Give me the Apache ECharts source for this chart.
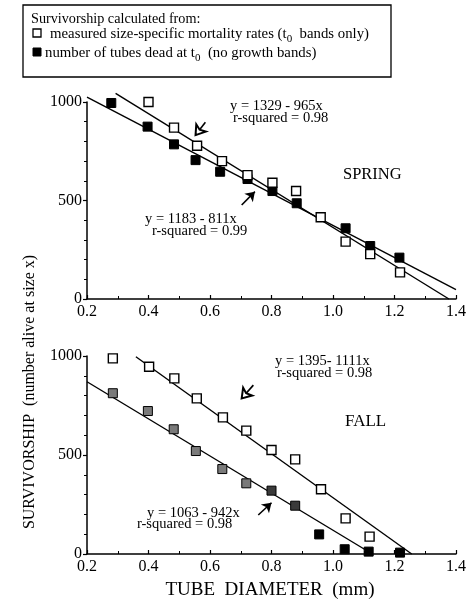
<!DOCTYPE html>
<html><head><meta charset="utf-8">
<script src="https://cdn.jsdelivr.net/npm/echarts@6/dist/echarts.min.js"></script>
<style>html,body{margin:0;padding:0;background:#fff}#c{width:469px;height:605px}</style>
</head><body><div id="c"></div>
<script>
// ---- data ----
const springOpen = [[0.40,1000],[0.483,870],[0.558,778],[0.639,700],[0.722,629],[0.803,590],[0.88,548],[0.96,415],[1.041,291],[1.121,228],[1.218,135]];
const springFilled = [[0.279,995],[0.397,875],[0.483,785],[0.553,705],[0.633,646],[0.722,609],[0.803,548],[0.882,486],[1.041,359],[1.121,269],[1.216,210]];
const springFitOpen = [[0.293,1044],[1.377,0]];     // y = 1329 - 965x
const springFitFilled = [[0.2,1025],[1.4,47]];      // y = 1183 - 811x
const fallOpen = [[0.284,988],[0.402,946],[0.484,887],[0.557,786],[0.642,690],[0.718,623],[0.80,525],[0.877,478],[0.961,327],[1.041,180],[1.119,88]];
const fallFilled = [[0.284,812],[0.398,722],[0.482,630],[0.554,520],[0.64,429],[0.718,357],[0.80,320],[0.877,244],[0.955,99],[1.038,24],[1.116,12],[1.218,7]];
const fallFitOpen = [[0.359,996],[1.256,0]];        // y = 1395 - 1111x
const fallFitFilled = [[0.2,870],[1.128,0]];        // y = 1063 - 942x
const xRange = [0.2, 1.4];
const yRange = [0, 1000];
const springEqOpen = ['y = 1329 - 965x', 'r-squared = 0.98'];
const springEqFilled = ['y = 1183 - 811x', 'r-squared = 0.99'];
const fallEqOpen = ['y = 1395- 1111x', 'r-squared = 0.98'];
const fallEqFilled = ['y = 1063 - 942x', 'r-squared = 0.98'];
// annotation arrows (tail -> head) in data units
const springArrowOpen = [[0.585,897],[0.553,832]];
const springArrowFilled = [[0.703,477],[0.746,545]];
const fallArrowOpen = [[0.741,853],[0.703,786]];
const fallArrowFilled = [[0.757,197],[0.80,259]];

const FONT = '"Liberation Serif", "Times New Roman", serif';
const chart = echarts.init(document.getElementById('c'));

function xAxis(gi){
  return {type:'value', gridIndex:gi, min:xRange[0], max:xRange[1], interval:0.2,
    axisLine:{show:true,onZero:false,lineStyle:{color:'#000',width:1.5}},
    axisTick:{show:true,inside:true,length:4,lineStyle:{color:'#000',width:1.2}},
    minorTick:{show:true,splitNumber:2,length:3,lineStyle:{color:'#000',width:1}},
    splitLine:{show:false},
    axisLabel:{color:'#000',fontFamily:FONT,fontSize:16,margin:5,formatter:v=>v.toFixed(1)}};
}
function yAxis(gi){
  return {type:'value', gridIndex:gi, min:yRange[0], max:yRange[1], interval:500,
    axisLine:{show:true,onZero:false,lineStyle:{color:'#000',width:1.5}},
    axisTick:{show:true,inside:false,length:4,lineStyle:{color:'#000',width:1.2}},
    minorTick:{show:true,splitNumber:5,length:3,lineStyle:{color:'#000',width:1}},
    splitLine:{show:false},
    axisLabel:{color:'#000',fontFamily:FONT,fontSize:16,margin:5,formatter:v=>String(Math.round(v))}};
}
function openSq(data, gi){
  return {type:'scatter', xAxisIndex:gi, yAxisIndex:gi, data:data, symbol:'rect', symbolSize:9,
    itemStyle:{color:'#fff',borderColor:'#000',borderWidth:1.4,opacity:1}, z:5};
}
function filledSq(data, gi, colorFn){
  return {type:'scatter', xAxisIndex:gi, yAxisIndex:gi, data:data, symbol:'rect', symbolSize:9,
    itemStyle:{color: colorFn || '#000', borderColor:'#000',borderWidth:1,opacity:1}, z:4};
}
function fit(data, gi, arrows){
  const s = {type:'line', xAxisIndex:gi, yAxisIndex:gi, data:data, showSymbol:false, symbol:'none', clip:false,
    lineStyle:{color:'#000',width:1.4}, z:3, silent:true};
  if (arrows){
    s.markLine = {silent:true, symbol:['none', arrows.sym], symbolSize:[9,9],
      label:{show:false}, lineStyle:{color:'#000',width:1.6,type:'solid'},
      data:[[{coord:arrows.pts[0]},{coord:arrows.pts[1]}]]};
  }
  return s;
}
function txt(x, y, text, size, align){
  return {type:'text', x:x, y:y, style:{text:text, font: size+'px '+FONT, fill:'#000', textAlign:align||'left', textVerticalAlign:'middle'}};
}
const richSub = {n:{fontFamily:FONT,fontSize:14.8,fill:'#000',verticalAlign:'bottom'}, s:{fontFamily:FONT,fontSize:11,fill:'#000',verticalAlign:'bottom',padding:[0,0,-3,0]}};

const option = {
  animation:false,
  backgroundColor:'#fff',
  grid:[{left:87, top:102, width:373, height:197},{left:87, top:356, width:373, height:198}],
  xAxis:[xAxis(0), xAxis(1)],
  yAxis:[yAxis(0), yAxis(1)],
  series:[
    fit(springFitOpen,0,{sym:'emptyArrow',pts:springArrowOpen}),
    fit(springFitFilled,0,{sym:'arrow',pts:springArrowFilled}),
    filledSq(springFilled,0),
    openSq(springOpen,0),
    fit(fallFitOpen,1,{sym:'emptyArrow',pts:fallArrowOpen}),
    fit(fallFitFilled,1,{sym:'arrow',pts:fallArrowFilled}),
    filledSq(fallFilled,1,p=> p.value[0] < 0.76 ? '#7a7a7a' : (p.value[0] < 0.9 ? '#3a3a3a' : '#000')),
    openSq(fallOpen,1)
  ],
  graphic:[
    {type:'rect', shape:{x:23,y:5,width:368,height:72}, style:{fill:'#fff',stroke:'#000',lineWidth:1.3}},
    txt(31, 19, 'Survivorship calculated from:', 14.2),
    {type:'rect', shape:{x:33,y:29,width:8,height:8}, style:{fill:'#fff',stroke:'#000',lineWidth:1.3}},
    {type:'text', x:50, y:34, style:{text:'{n|measured size-specific mortality rates (t}{s|0}{n|  bands only)}', font:'14.8px '+FONT, fill:'#000', textVerticalAlign:'middle', rich:richSub}},
    {type:'rect', shape:{x:33,y:48,width:8,height:8}, style:{fill:'#000',stroke:'#000',lineWidth:1}},
    {type:'text', x:45, y:53, style:{text:'{n|number of tubes dead at t}{s|0}{n|  (no growth bands)}', font:'14.8px '+FONT, fill:'#000', textVerticalAlign:'middle', rich:richSub}},
    // spring annotations
    txt(230, 106, springEqOpen[0], 14.5),
    txt(233, 118, springEqOpen[1], 14.5),
    txt(145, 219.5, springEqFilled[0], 14.5),
    txt(152, 231.5, springEqFilled[1], 14.5),
    txt(343, 175, 'SPRING', 16.5),
    // fall annotations
    txt(275, 361.5, fallEqOpen[0], 14.5),
    txt(277, 373.5, fallEqOpen[1], 14.5),
    txt(147, 513, fallEqFilled[0], 14.5),
    txt(137, 524.5, fallEqFilled[1], 14.5),
    txt(345, 422, 'FALL', 17),
    // axis titles
    {type:'text', x:30, y:392, rotation:Math.PI/2, style:{text:'SURVIVORSHIP  (number alive at size x)', font:'16px '+FONT, fill:'#000', textAlign:'center', textVerticalAlign:'middle'}},
    txt(270, 590, 'TUBE  DIAMETER  (mm)', 19, 'center')
  ]
};
chart.setOption(option);
</script>
</body></html>
